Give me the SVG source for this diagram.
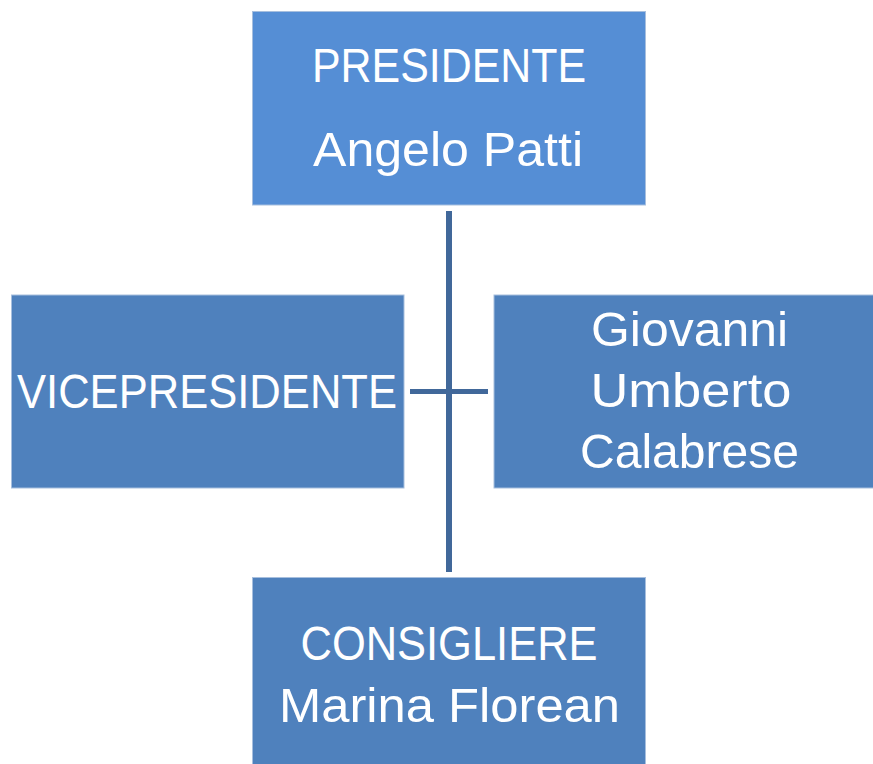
<svg xmlns="http://www.w3.org/2000/svg" width="873" height="764" viewBox="0 0 873 764">
<style>
.box{fill:#4F81BD;stroke:#A7BFDE;stroke-width:1}
.top{fill:#558ED5}
.t{font-family:"Liberation Sans",Arial,sans-serif;font-size:48px;fill:#FFFFFF;text-anchor:middle}
.c{stroke:#41689A;fill:none}
</style>
<rect width="873" height="764" fill="#FFFFFF"/>
<g id="connectors">
<line class="c" x1="449" y1="211" x2="449" y2="572" stroke-width="6"/>
<line class="c" x1="410" y1="391.5" x2="488" y2="391.5" stroke-width="5"/>
</g>
<g id="presidente">
<rect class="box top" x="252.5" y="11.5" width="393" height="193.5"/>
<text class="t" x="449" y="82" textLength="274" lengthAdjust="spacingAndGlyphs">PRESIDENTE</text>
<text class="t" x="448" y="166" textLength="270" lengthAdjust="spacingAndGlyphs">Angelo Patti</text>
</g>
<g id="vicepresidente">
<rect class="box" x="11.5" y="295" width="392.5" height="193"/>
<text class="t" x="207" y="408" textLength="380" lengthAdjust="spacingAndGlyphs">VICEPRESIDENTE</text>
</g>
<g id="calabrese">
<rect class="box" x="494" y="295" width="380" height="193"/>
<text class="t" x="689.5" y="346" textLength="197" lengthAdjust="spacingAndGlyphs">Giovanni</text>
<text class="t" x="691" y="407" textLength="201" lengthAdjust="spacingAndGlyphs">Umberto</text>
<text class="t" x="689.5" y="468" textLength="219" lengthAdjust="spacingAndGlyphs">Calabrese</text>
</g>
<g id="consigliere">
<rect class="box" x="252.5" y="577.5" width="393" height="190"/>
<text class="t" x="449" y="660" textLength="297" lengthAdjust="spacingAndGlyphs">CONSIGLIERE</text>
<text class="t" x="449.5" y="722" textLength="341" lengthAdjust="spacingAndGlyphs">Marina Florean</text>
</g>
</svg>
